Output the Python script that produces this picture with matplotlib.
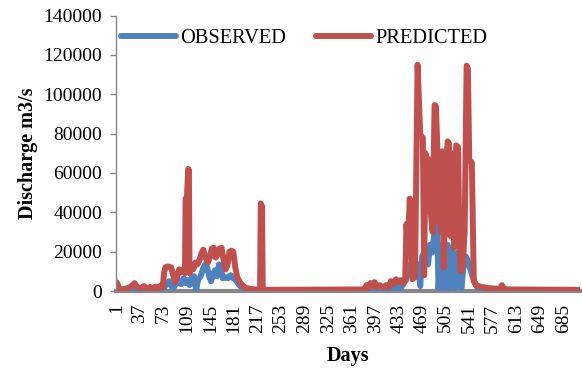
import numpy as np
import matplotlib
matplotlib.use('Agg')
import matplotlib.pyplot as plt

plt.rcParams['font.family'] = ['Liberation Serif', 'DejaVu Serif']

# values, discharge in thousands of m3/s
pred_days = [1, 3, 5, 10, 16, 22, 26, 29, 33, 38, 43, 48, 53, 57, 61, 65, 69, 72,
             74, 76, 80, 85, 88, 91, 94, 97, 100, 103, 106, 107, 109, 111, 112, 113,
             116, 119, 122, 125, 128, 131, 134, 137, 141, 144, 147, 150, 153, 156,
             159, 162, 165, 168, 171, 174, 177, 180, 183, 186, 190, 195, 200, 208,
             215, 221, 222, 224, 225, 232, 380, 384, 387, 390, 393, 396, 399, 404,
             409, 414, 418, 421, 425, 429, 432, 436, 440, 443, 445, 447, 450, 452,
             454, 458, 462, 466, 470, 472, 474, 477, 479, 482, 485, 488, 490, 492,
             494, 496, 498, 500, 502, 505, 508, 510, 512, 514, 516, 518, 521, 524,
             526, 528, 531, 534, 537, 539, 541, 545, 548, 551, 560, 570, 580, 588,
             591, 594, 600, 710]
pred_k = [4.5, 3.5, 1.0, 0.8, 1.2, 2.0, 3.0, 4.0, 2.0, 1.5, 2.5, 1.5, 2.0, 1.2, 2.2, 1.5, 2.8, 1.8,
          9.0, 12.0, 12.5, 12.0, 8.0, 4.5, 7.0, 11.0, 9.5, 11.0, 9.0, 47.0, 47.5, 62.0, 61.5, 9.0,
          13.0, 11.0, 14.5, 13.5, 15.5, 19.0, 21.0, 17.5, 14.5, 17.0, 21.5, 22.0, 17.0, 18.5,
          21.5, 22.0, 16.0, 11.0, 13.0, 20.0, 20.5, 20.0, 12.0, 7.0, 4.5, 2.5, 1.5, 1.0,
          0.8, 0.8, 44.5, 43.0, 0.8, 0.6, 0.8, 3.0, 1.5, 4.0, 2.5, 4.5, 2.0, 3.0,
          1.8, 3.0, 2.0, 5.0, 3.5, 6.0, 4.5, 5.5, 4.0, 5.5, 34.0, 22.0, 47.0, 30.0,
          6.0, 7.0, 115.0, 79.0, 78.0, 8.0, 70.0, 60.0, 67.0, 40.0, 30.0, 94.5, 94.0, 75.0,
          35.0, 70.0, 30.0, 71.0, 12.0, 60.0, 76.0, 75.0, 28.0, 70.0, 68.0, 22.0, 74.0, 73.0,
          25.0, 10.0, 12.0, 30.0, 114.5, 113.0, 67.0, 65.0, 5.0, 3.0, 2.0, 1.5, 1.2, 1.0,
          3.0, 1.2, 0.8, 0.6]

obs_days = [1, 4, 20, 30, 40, 50, 60, 70, 74, 78, 82, 85, 88, 92, 96, 100, 104, 107,
            110, 113, 117, 120, 123, 126, 130, 134, 137, 140, 143, 146, 149, 152, 155,
            158, 161, 164, 168, 172, 176, 180, 184, 188, 192, 196, 200, 215, 420, 424,
            427, 431, 435, 440, 444, 448, 451, 454, 457, 460, 463, 466, 469, 472, 475,
            478, 481, 484, 487, 490, 492, 494, 497, 500, 502, 505, 508, 511, 514, 517,
            520, 523, 526, 529, 532, 536, 540, 544, 548, 552, 556, 565, 600, 710]
obs_k = [2.0, 0.5, 0.6, 1.2, 0.8, 1.0, 0.6, 0.8, 1.5, 4.0, 5.0, 2.5, 1.5, 3.5, 5.5, 3.5, 6.5, 4.0,
         5.5, 3.0, 7.0, 7.5, 0.3, 5.5, 7.5, 11.5, 13.5, 12.0, 7.5, 5.0, 8.5, 10.5, 7.5,
         13.5, 11.5, 6.5, 7.0, 6.5, 8.0, 6.5, 5.5, 3.5, 2.0, 1.0, 0.5, 0.3, 0.3, 2.5,
         0.3, 3.0, 0.8, 3.5, 5.5, 9.5, 13.5, 7.5, 11.5, 8.5, 13.5, 2.5, 17.5, 19.5, 21.5,
         13.5, 23.5, 19.5, 27.5, 33.5, 32.5, 1.0, 21.5, 23.5, 1.5, 19.5, 23.5, 1.0, 21.5, 17.5,
         1.5, 19.5, 15.5, 1.5, 11.5, 17.5, 14.5, 9.5, 5.5, 2.5, 1.0, 0.6, 0.4, 0.3]

n_days = 710
tick_days = list(range(1, n_days + 1, 36))

fig = plt.figure(figsize=(5.82, 3.69), dpi=100)
ax = fig.add_axes([116 / 582, 78 / 369, 464 / 582, 275.5 / 369])

ax.plot(obs_days, np.array(obs_k) * 1000, color='#4F81BD', lw=4.3,
        solid_joinstyle='round', solid_capstyle='round', label='OBSERVED')
ax.plot(pred_days, np.array(pred_k) * 1000, color='#C0504D', lw=4.3,
        solid_joinstyle='round', solid_capstyle='round', label='PREDICTED')

ax.set_xlim(0.5, n_days + 0.5)
ax.set_ylim(0, 140000)
ax.set_yticks(np.arange(0, 140001, 20000))
ax.set_xticks(tick_days)
ax.set_xticklabels([str(d) for d in tick_days], rotation=90)

for side in ('top', 'right'):
    ax.spines[side].set_visible(False)
ax.spines['left'].set_color('#868686')
ax.spines['left'].set_linewidth(1.0)
ax.spines['bottom'].set_color('#868686')
ax.spines['bottom'].set_linewidth(3.0)
ax.spines['bottom'].set_zorder(0.5)

ax.tick_params(axis='y', direction='out', length=4, width=1, color='#868686',
               labelsize=14, pad=6)
ax.tick_params(axis='x', length=0, labelsize=14, pad=9)

ax.set_ylabel('Discharge m3/s', fontsize=14.5, fontweight='bold')
ax.yaxis.set_label_coords(-0.168, 0.5)
ax.set_xlabel('Days', fontsize=14.5, fontweight='bold')
ax.xaxis.set_label_coords(0.5, -0.198)

ax.legend(loc='upper left', bbox_to_anchor=(121 / 582, 1 - 29 / 369),
          bbox_transform=fig.transFigure, ncol=2, frameon=False, fontsize=14.7,
          handlelength=2.7, handletextpad=0.2, columnspacing=1.45,
          borderpad=0, borderaxespad=0)

fig.savefig('out.png', dpi=100)
